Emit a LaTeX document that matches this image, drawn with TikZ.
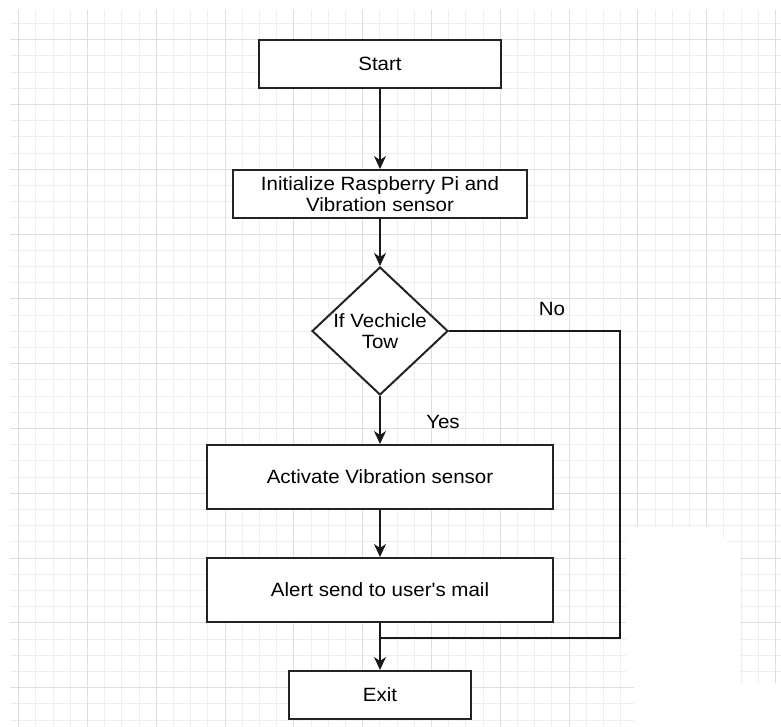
\documentclass[tikz,border=0pt]{standalone}
\usepackage{fontspec}
\setmainfont{Liberation Sans}[FakeStretch=1.068, Ligatures=TeXOff]
\usetikzlibrary{shapes.geometric,arrows.meta}
\definecolor{gridminor}{RGB}{238,238,238}
\definecolor{gridmajor}{RGB}{222,222,222}
\definecolor{edgecol}{RGB}{35,35,35}
\tikzset{
  boxnode/.style={draw=edgecol, line width=2pt, fill=white, rectangle, inner sep=0pt, align=center,
    font=\fontsize{19.2}{20.5}\selectfont},
  decnode/.style={draw=edgecol, line width=2pt, fill=white, diamond, inner sep=0pt},
  txt/.style={inner sep=0pt, align=center, font=\fontsize{19.2}{20.5}\selectfont},
  conn/.style={line width=2pt, black!90},
  arr/.style={conn, -{Stealth[length=13pt, width=12pt, inset=4pt]}},
}
\begin{document}
\begin{tikzpicture}[x=1pt, y=-1pt]
\useasboundingbox (0,0) rectangle (781,727);
\fill[white] (0,0) rectangle (781,727);
% grid
\begin{scope}
\clip (10,10) rectangle (781,727);
\foreach \i in {0,...,44} {
  \pgfmathtruncatemacro{\rr}{mod(\i,4)}
  \ifnum\rr=0\relax\else
  \pgfmathsetmacro{\xx}{round(18.2+17.2*\i)+0.5}
  \draw[gridminor, line width=1pt] (\xx,10) -- (\xx,727);
  \fi
}
\foreach \j in {0,...,43} {
  \pgfmathtruncatemacro{\rr}{mod(\j+3,4)}
  \ifnum\rr=0\relax\else
  \pgfmathsetmacro{\yy}{round(23+16.2*\j)+0.5}
  \draw[gridminor, line width=1pt] (10,\yy) -- (781,\yy);
  \fi
}
\foreach \i in {0,...,11} {
  \pgfmathsetmacro{\xx}{round(18.2+68.8*\i)+0.5}
  \draw[gridmajor, line width=1pt] (\xx,10) -- (\xx,727);
}
\foreach \j in {0,...,10} {
  \pgfmathsetmacro{\yy}{round(39.2+64.8*\j)+0.5}
  \draw[gridmajor, line width=1pt] (10,\yy) -- (781,\yy);
}
\end{scope}
% blank patch lower right
\fill[white] (626,527) -- (713,527) -- (740,555) -- (740,683) -- (781,683) -- (781,727)
  -- (634,727) -- (634,683) -- (626,683) -- cycle;
% nodes
\node[boxnode, minimum width=242, minimum height=48] (start) at (380,64) {Start};
\node[boxnode, minimum width=294, minimum height=48] (init) at (380,194) {Initialize Raspberry Pi and\\Vibration sensor};
\node[decnode, minimum width=136, minimum height=128] (dec) at (380,331) {};
\node[txt] (dectext) at (dec.center) {If Vechicle\\Tow};
\node[boxnode, minimum width=346, minimum height=64] (act) at (380,477) {Activate Vibration sensor};
\node[boxnode, minimum width=346, minimum height=64] (alert) at (380,590) {Alert send to user's mail};
\node[boxnode, minimum width=182, minimum height=48] (exit) at (380,695) {Exit};
\node[txt] (nolab) at (552,309) {No};
\node[txt] (yeslab) at (443,422) {Yes};
% connectors
\coordinate (nr) at (620,331);
\coordinate (nb) at (620,638);
\coordinate (jn) at (380,638);
\draw[arr] (start.south) -- (init.north);
\draw[arr] (init.south) -- (dec.north);
\draw[arr] (dec.south) -- (act.north);
\draw[arr] (act.south) -- (alert.north);
\draw[arr] (alert.south) -- (exit.north);
\draw[conn, line join=miter] (dec.east) -- (nr) -- (nb) -- (jn);
\end{tikzpicture}
\end{document}
